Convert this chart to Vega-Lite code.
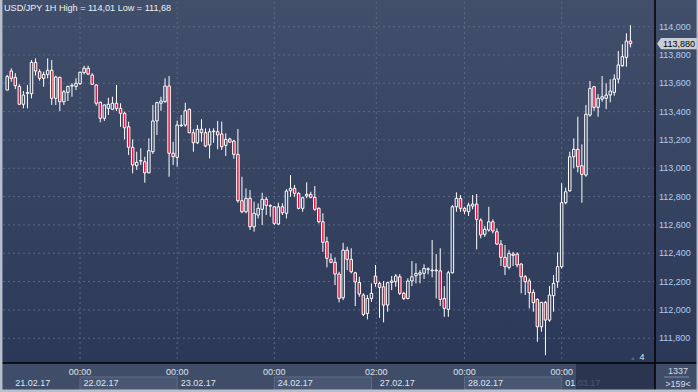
{
"$schema": "https://vega.github.io/schema/vega-lite/v6.json",
"width": 652, "height": 361,
"autosize": {"type": "none"},
"padding": {"left": 3, "top": 2, "right": 43, "bottom": 29},
"background": "#3f4d68",
"config": {"view": {"stroke": null}, "text": {"font": "Liberation Sans"}},
"datasets": {
"candles": [
{"i":0,"o":113.552,"h":113.659,"l":113.552,"c":113.647},
{"i":1,"o":113.687,"h":113.706,"l":113.611,"c":113.635},
{"i":2,"o":113.642,"h":113.671,"l":113.559,"c":113.583},
{"i":3,"o":113.578,"h":113.593,"l":113.447,"c":113.452},
{"i":4,"o":113.452,"h":113.545,"l":113.423,"c":113.517},
{"i":5,"o":113.529,"h":113.588,"l":113.423,"c":113.535},
{"i":6,"o":113.526,"h":113.764,"l":113.494,"c":113.748},
{"i":7,"o":113.748,"h":113.776,"l":113.654,"c":113.687},
{"i":8,"o":113.682,"h":113.699,"l":113.618,"c":113.635},
{"i":9,"o":113.635,"h":113.682,"l":113.576,"c":113.663},
{"i":10,"o":113.663,"h":113.776,"l":113.635,"c":113.692},
{"i":11,"o":113.692,"h":113.764,"l":113.447,"c":113.494},
{"i":12,"o":113.494,"h":113.654,"l":113.447,"c":113.644},
{"i":13,"o":113.642,"h":113.647,"l":113.404,"c":113.470},
{"i":14,"o":113.470,"h":113.552,"l":113.447,"c":113.540},
{"i":15,"o":113.536,"h":113.583,"l":113.475,"c":113.578},
{"i":16,"o":113.581,"h":113.600,"l":113.505,"c":113.586},
{"i":17,"o":113.578,"h":113.635,"l":113.552,"c":113.600},
{"i":18,"o":113.597,"h":113.682,"l":113.588,"c":113.678},
{"i":19,"o":113.675,"h":113.724,"l":113.663,"c":113.706},
{"i":20,"o":113.706,"h":113.724,"l":113.658,"c":113.665},
{"i":21,"o":113.658,"h":113.671,"l":113.588,"c":113.593},
{"i":22,"o":113.588,"h":113.593,"l":113.442,"c":113.459},
{"i":23,"o":113.466,"h":113.470,"l":113.324,"c":113.353},
{"i":24,"o":113.353,"h":113.452,"l":113.334,"c":113.447},
{"i":25,"o":113.423,"h":113.498,"l":113.376,"c":113.452},
{"i":26,"o":113.416,"h":113.505,"l":113.411,"c":113.459},
{"i":27,"o":113.459,"h":113.588,"l":113.404,"c":113.423},
{"i":28,"o":113.423,"h":113.459,"l":113.293,"c":113.388},
{"i":29,"o":113.388,"h":113.399,"l":113.204,"c":113.286},
{"i":30,"o":113.293,"h":113.329,"l":113.094,"c":113.148},
{"i":31,"o":113.148,"h":113.204,"l":112.964,"c":113.023},
{"i":32,"o":113.018,"h":113.117,"l":112.988,"c":113.042},
{"i":33,"o":113.051,"h":113.141,"l":113.023,"c":113.055},
{"i":34,"o":113.046,"h":113.081,"l":112.898,"c":112.968},
{"i":35,"o":112.968,"h":113.211,"l":112.964,"c":113.124},
{"i":36,"o":113.117,"h":113.447,"l":113.101,"c":113.334},
{"i":37,"o":113.334,"h":113.470,"l":113.235,"c":113.463},
{"i":38,"o":113.459,"h":113.505,"l":113.406,"c":113.475},
{"i":39,"o":113.470,"h":113.635,"l":113.463,"c":113.581},
{"i":40,"o":113.581,"h":113.651,"l":112.940,"c":113.106},
{"i":41,"o":113.106,"h":113.187,"l":113.023,"c":113.082},
{"i":42,"o":113.077,"h":113.336,"l":113.011,"c":113.305},
{"i":43,"o":113.300,"h":113.376,"l":113.293,"c":113.305},
{"i":44,"o":113.305,"h":113.463,"l":113.293,"c":113.406},
{"i":45,"o":113.416,"h":113.423,"l":113.247,"c":113.251},
{"i":46,"o":113.251,"h":113.275,"l":113.117,"c":113.180},
{"i":47,"o":113.180,"h":113.305,"l":113.171,"c":113.275},
{"i":48,"o":113.275,"h":113.346,"l":113.187,"c":113.251},
{"i":49,"o":113.251,"h":113.282,"l":113.148,"c":113.157},
{"i":50,"o":113.164,"h":113.282,"l":113.070,"c":113.258},
{"i":51,"o":113.258,"h":113.282,"l":113.180,"c":113.263},
{"i":52,"o":113.258,"h":113.334,"l":113.134,"c":113.235},
{"i":53,"o":113.242,"h":113.329,"l":113.129,"c":113.152},
{"i":54,"o":113.162,"h":113.247,"l":113.086,"c":113.204},
{"i":55,"o":113.206,"h":113.216,"l":113.180,"c":113.185},
{"i":56,"o":113.192,"h":113.199,"l":113.067,"c":113.098},
{"i":57,"o":113.098,"h":113.277,"l":112.757,"c":112.771},
{"i":58,"o":112.771,"h":112.940,"l":112.682,"c":112.693},
{"i":59,"o":112.693,"h":112.858,"l":112.682,"c":112.788},
{"i":60,"o":112.788,"h":112.846,"l":112.564,"c":112.587},
{"i":61,"o":112.587,"h":112.764,"l":112.552,"c":112.682},
{"i":62,"o":112.670,"h":112.752,"l":112.646,"c":112.717},
{"i":63,"o":112.710,"h":112.827,"l":112.599,"c":112.781},
{"i":64,"o":112.781,"h":112.799,"l":112.670,"c":112.738},
{"i":65,"o":112.733,"h":112.745,"l":112.658,"c":112.737},
{"i":66,"o":112.728,"h":112.733,"l":112.599,"c":112.611},
{"i":67,"o":112.606,"h":112.757,"l":112.599,"c":112.728},
{"i":68,"o":112.728,"h":112.752,"l":112.670,"c":112.686},
{"i":69,"o":112.682,"h":112.853,"l":112.646,"c":112.839},
{"i":70,"o":112.841,"h":112.952,"l":112.799,"c":112.858},
{"i":71,"o":112.858,"h":112.882,"l":112.799,"c":112.823},
{"i":72,"o":112.823,"h":112.830,"l":112.710,"c":112.717},
{"i":73,"o":112.717,"h":112.799,"l":112.693,"c":112.792},
{"i":74,"o":112.804,"h":112.901,"l":112.788,"c":112.816},
{"i":75,"o":112.816,"h":112.834,"l":112.788,"c":112.795},
{"i":76,"o":112.795,"h":112.875,"l":112.700,"c":112.710},
{"i":77,"o":112.717,"h":112.724,"l":112.611,"c":112.622},
{"i":78,"o":112.622,"h":112.682,"l":112.410,"c":112.477},
{"i":79,"o":112.481,"h":112.516,"l":112.300,"c":112.364},
{"i":80,"o":112.357,"h":112.399,"l":112.329,"c":112.336},
{"i":81,"o":112.336,"h":112.371,"l":112.175,"c":112.253},
{"i":82,"o":112.253,"h":112.269,"l":112.053,"c":112.081},
{"i":83,"o":112.086,"h":112.474,"l":112.069,"c":112.422},
{"i":84,"o":112.422,"h":112.446,"l":112.281,"c":112.357},
{"i":85,"o":112.357,"h":112.435,"l":112.258,"c":112.269},
{"i":86,"o":112.262,"h":112.269,"l":112.027,"c":112.197},
{"i":87,"o":112.194,"h":112.234,"l":112.093,"c":112.112},
{"i":88,"o":112.105,"h":112.117,"l":111.956,"c":111.968},
{"i":89,"o":111.975,"h":112.105,"l":111.933,"c":112.081},
{"i":90,"o":112.081,"h":112.187,"l":112.057,"c":112.117},
{"i":91,"o":112.239,"h":112.317,"l":112.163,"c":112.187},
{"i":92,"o":112.187,"h":112.199,"l":111.944,"c":112.159},
{"i":93,"o":112.163,"h":112.204,"l":111.912,"c":112.034},
{"i":94,"o":112.034,"h":112.199,"l":111.987,"c":112.192},
{"i":95,"o":112.194,"h":112.239,"l":112.140,"c":112.204},
{"i":96,"o":112.199,"h":112.253,"l":112.163,"c":112.239},
{"i":97,"o":112.234,"h":112.253,"l":112.105,"c":112.117},
{"i":98,"o":112.117,"h":112.128,"l":112.069,"c":112.081},
{"i":99,"o":112.081,"h":112.223,"l":112.074,"c":112.204},
{"i":100,"o":112.204,"h":112.345,"l":112.168,"c":112.234},
{"i":101,"o":112.241,"h":112.329,"l":112.187,"c":112.258},
{"i":102,"o":112.251,"h":112.281,"l":112.187,"c":112.262},
{"i":103,"o":112.258,"h":112.322,"l":112.218,"c":112.293},
{"i":104,"o":112.286,"h":112.300,"l":112.251,"c":112.290},
{"i":105,"o":112.276,"h":112.493,"l":112.230,"c":112.281},
{"i":106,"o":112.281,"h":112.394,"l":112.081,"c":112.276},
{"i":107,"o":112.276,"h":112.435,"l":112.027,"c":112.074},
{"i":108,"o":112.081,"h":112.168,"l":111.951,"c":112.011},
{"i":109,"o":112.004,"h":112.276,"l":111.951,"c":112.262},
{"i":110,"o":112.262,"h":112.740,"l":112.258,"c":112.728},
{"i":111,"o":112.728,"h":112.830,"l":112.693,"c":112.788},
{"i":112,"o":112.788,"h":112.811,"l":112.693,"c":112.717},
{"i":113,"o":112.717,"h":112.728,"l":112.675,"c":112.698},
{"i":114,"o":112.693,"h":112.757,"l":112.663,"c":112.740},
{"i":115,"o":112.733,"h":112.811,"l":112.710,"c":112.747},
{"i":116,"o":112.747,"h":112.818,"l":112.427,"c":112.639},
{"i":117,"o":112.634,"h":112.646,"l":112.505,"c":112.529},
{"i":118,"o":112.534,"h":112.592,"l":112.516,"c":112.569},
{"i":119,"o":112.564,"h":112.728,"l":112.552,"c":112.622},
{"i":120,"o":112.622,"h":112.639,"l":112.540,"c":112.557},
{"i":121,"o":112.552,"h":112.576,"l":112.458,"c":112.465},
{"i":122,"o":112.465,"h":112.493,"l":112.310,"c":112.371},
{"i":123,"o":112.371,"h":112.458,"l":112.246,"c":112.305},
{"i":124,"o":112.300,"h":112.422,"l":112.286,"c":112.399},
{"i":125,"o":112.394,"h":112.410,"l":112.310,"c":112.385},
{"i":126,"o":112.394,"h":112.406,"l":112.300,"c":112.317},
{"i":127,"o":112.324,"h":112.329,"l":112.117,"c":112.234},
{"i":128,"o":112.234,"h":112.246,"l":112.105,"c":112.199},
{"i":129,"o":112.204,"h":112.223,"l":112.011,"c":112.121},
{"i":130,"o":112.124,"h":112.145,"l":111.987,"c":112.051},
{"i":131,"o":112.074,"h":112.081,"l":111.775,"c":111.881},
{"i":132,"o":111.881,"h":112.057,"l":111.846,"c":112.053},
{"i":133,"o":112.053,"h":112.064,"l":111.680,"c":111.928},
{"i":134,"o":111.928,"h":112.168,"l":111.916,"c":112.105},
{"i":135,"o":112.100,"h":112.246,"l":111.987,"c":112.187},
{"i":136,"o":112.199,"h":112.406,"l":112.156,"c":112.305},
{"i":137,"o":112.305,"h":112.894,"l":112.293,"c":112.757},
{"i":138,"o":112.757,"h":112.863,"l":112.745,"c":112.834},
{"i":139,"o":112.841,"h":113.117,"l":112.834,"c":113.081},
{"i":140,"o":113.081,"h":113.211,"l":113.000,"c":113.134},
{"i":141,"o":113.134,"h":113.364,"l":112.971,"c":113.011},
{"i":142,"o":113.018,"h":113.169,"l":112.757,"c":112.957},
{"i":143,"o":112.952,"h":113.447,"l":112.940,"c":113.381},
{"i":144,"o":113.376,"h":113.616,"l":113.364,"c":113.564},
{"i":145,"o":113.576,"h":113.581,"l":113.406,"c":113.430},
{"i":146,"o":113.430,"h":113.524,"l":113.364,"c":113.494},
{"i":147,"o":113.489,"h":113.651,"l":113.470,"c":113.505},
{"i":148,"o":113.494,"h":113.600,"l":113.418,"c":113.517},
{"i":149,"o":113.517,"h":113.628,"l":113.466,"c":113.545},
{"i":150,"o":113.536,"h":113.663,"l":113.512,"c":113.630},
{"i":151,"o":113.630,"h":113.828,"l":113.600,"c":113.729},
{"i":152,"o":113.724,"h":113.875,"l":113.717,"c":113.788},
{"i":153,"o":113.783,"h":113.953,"l":113.717,"c":113.898},
{"i":154,"o":113.898,"h":114.010,"l":113.854,"c":113.880}
],
"hgrid": [{"p":111.8,"t":"111,800"},{"p":112.0,"t":"112,000"},{"p":112.2,"t":"112,200"},{"p":112.4,"t":"112,400"},{"p":112.6,"t":"112,600"},{"p":112.8,"t":"112,800"},{"p":113.0,"t":"113,000"},{"p":113.2,"t":"113,200"},{"p":113.4,"t":"113,400"},{"p":113.6,"t":"113,600"},{"p":113.8,"t":"113,800"},{"p":114.0,"t":"114,000"}],
"vgrid": [{"k":18,"t":"00:00"},{"k":42,"t":"00:00"},{"k":66,"t":"00:00"},{"k":91.2,"t":"02:00"},{"k":113,"t":"00:00"},{"k":137,"t":"00:00"}],
"boxes": [{"b0":18,"b1":42},{"b0":66,"b1":90},{"b0":113,"b1":137}],
"dates": [{"k":1.1,"d":"21.02.17"},{"k":18,"d":"22.02.17"},{"k":42,"d":"23.02.17"},{"k":66,"d":"24.02.17"},{"k":91.2,"d":"27.02.17"},{"k":113,"d":"28.02.17"},{"k":137,"d":"01.03.17"}],
"last": [{"p":113.88,"t":"113,880"}]
},
"layer": [
{"data": {"values": [{}]},
 "mark": {"type": "rect", "fill": {"gradient": "linear", "x1": 0, "y1": 0, "x2": 0, "y2": 1, "stops": [{"offset": 0, "color": "#424f6b"}, {"offset": 1, "color": "#2b3857"}]}},
 "encoding": {"x": {"value": -3}, "x2": {"value": 695}, "y": {"value": -2}, "y2": {"value": 361}}},
{"data": {"name": "hgrid"},
 "mark": {"type": "rule", "stroke": "#5a6782", "strokeWidth": 1, "strokeDash": [2, 3]},
 "encoding": {"y": {"field": "p", "type": "quantitative", "scale": {"domain": [111.625, 114.174], "nice": false, "zero": false}, "axis": null}}},
{"data": {"name": "vgrid"},
 "mark": {"type": "rule", "stroke": "#5a6782", "strokeWidth": 1, "strokeDash": [2, 3]},
 "encoding": {"x": {"field": "k", "type": "quantitative", "scale": {"domain": [0.1946, 158.83], "nice": false, "zero": false}, "axis": null}}},
{"data": {"name": "candles"},
 "mark": {"type": "rule", "stroke": "#ffffff", "strokeWidth": 1, "clip": true},
 "encoding": {
  "x": {"field": "i", "type": "quantitative", "scale": {"domain": [0.1946, 158.83], "nice": false, "zero": false}, "axis": null},
  "y": {"field": "l", "type": "quantitative", "scale": {"domain": [111.625, 114.174], "nice": false, "zero": false}, "axis": null},
  "y2": {"field": "h"}}},
{"data": {"name": "candles"},
 "transform": [{"filter": "datum.c >= datum.o"}],
 "mark": {"type": "bar", "size": 2.5, "stroke": "#ffffff", "strokeWidth": 1, "clip": true},
 "encoding": {
  "x": {"field": "i", "type": "quantitative", "scale": {"domain": [0.1946, 158.83], "nice": false, "zero": false}, "axis": null},
  "y": {"field": "o", "type": "quantitative", "scale": {"domain": [111.625, 114.174], "nice": false, "zero": false}, "axis": null},
  "y2": {"field": "c"},
  "fill": {"field": "c", "type": "quantitative", "scale": {"domain": [111.625, 114.174], "range": ["#2b3857", "#424f6b"]}, "legend": null}}},
{"data": {"name": "candles"},
 "transform": [{"filter": "datum.c < datum.o"}],
 "mark": {"type": "bar", "size": 2.5, "stroke": "#ffffff", "strokeWidth": 1, "fill": "#e8103c", "clip": true},
 "encoding": {
  "x": {"field": "i", "type": "quantitative", "scale": {"domain": [0.1946, 158.83], "nice": false, "zero": false}, "axis": null},
  "y": {"field": "o", "type": "quantitative", "scale": {"domain": [111.625, 114.174], "nice": false, "zero": false}, "axis": null},
  "y2": {"field": "c"}}},
{"data": {"name": "hgrid"},
 "mark": {"type": "text", "fill": "#aecdf0", "fontSize": 9, "align": "left", "baseline": "middle"},
 "encoding": {"x": {"value": 656},
  "y": {"field": "p", "type": "quantitative", "scale": {"domain": [111.625, 114.174], "nice": false, "zero": false}, "axis": null},
  "text": {"field": "t"}}},
{"data": {"name": "boxes"},
 "mark": {"type": "rect", "fill": "#4a5773", "stroke": "#5e6c88", "strokeWidth": 1},
 "encoding": {
  "x": {"field": "b0", "type": "quantitative", "scale": {"domain": [0.1946, 158.83], "nice": false, "zero": false}, "axis": null},
  "x2": {"field": "b1"}, "y": {"value": 375}, "y2": {"value": 388}}},
{"data": {"name": "vgrid"},
 "mark": {"type": "text", "fill": "#dfe4ec", "fontSize": 9, "align": "center", "baseline": "middle"},
 "encoding": {
  "x": {"field": "k", "type": "quantitative", "scale": {"domain": [0.1946, 158.83], "nice": false, "zero": false}, "axis": null},
  "y": {"value": 370}, "text": {"field": "t"}}},
{"data": {"name": "dates"},
 "mark": {"type": "text", "fill": "#dfe4ec", "fontSize": 9, "align": "left", "baseline": "middle", "dx": 3.5},
 "encoding": {
  "x": {"field": "k", "type": "quantitative", "scale": {"domain": [0.1946, 158.83], "nice": false, "zero": false}, "axis": null},
  "y": {"value": 381}, "text": {"field": "d"}}},
{"data": {"values": [{}]},
 "mark": {"type": "rect", "fill": "#25314a", "opacity": 0.8},
 "encoding": {"x": {"value": 573}, "x2": {"value": 652}, "y": {"value": 361}, "y2": {"value": 388}}},
{"data": {"values": [{}]},
 "mark": {"type": "rule", "stroke": "#000000", "strokeWidth": 1.5},
 "encoding": {"x": {"value": 652}, "y": {"value": -2}, "y2": {"value": 389}}},
{"data": {"values": [{}]},
 "mark": {"type": "rule", "stroke": "#000000", "strokeWidth": 1.5},
 "encoding": {"y": {"value": 361}, "x": {"value": -3}, "x2": {"value": 695}}},
{"data": {"name": "last"},
 "mark": {"type": "point", "shape": "M-1,0L-0.8,-0.28L1,-0.28L1,0.28L-0.8,0.28Z", "filled": true, "fill": "#c9ced6", "strokeWidth": 0, "opacity": 1, "size": 1600},
 "encoding": {"x": {"value": 674},
  "y": {"field": "p", "type": "quantitative", "scale": {"domain": [111.625, 114.174], "nice": false, "zero": false}, "axis": null}}},
{"data": {"name": "last"},
 "mark": {"type": "text", "fill": "#000000", "fontSize": 9, "align": "center", "baseline": "middle"},
 "encoding": {"x": {"value": 676},
  "y": {"field": "p", "type": "quantitative", "scale": {"domain": [111.625, 114.174], "nice": false, "zero": false}, "axis": null},
  "text": {"field": "t"}}},
{"data": {"values": [{}]},
 "mark": {"type": "text", "text": "1337", "fill": "#d8dde6", "fontSize": 9, "align": "center", "baseline": "middle"},
 "encoding": {"x": {"value": 675}, "y": {"value": 369}}},
{"data": {"values": [{}]},
 "mark": {"type": "text", "text": ">159<", "fill": "#d8dde6", "fontSize": 9, "align": "center", "baseline": "middle"},
 "encoding": {"x": {"value": 675}, "y": {"value": 382}}},
{"data": {"values": [{}]},
 "mark": {"type": "rule", "stroke": "#7f8da6", "strokeWidth": 1},
 "encoding": {"y": {"value": 375}, "x": {"value": 661}, "x2": {"value": 686}}},
{"data": {"values": [{}]},
 "mark": {"type": "text", "text": "USD/JPY 1H High = 114,01 Low = 111,68", "fill": "#eef0f4", "fontSize": 9.1, "align": "left", "baseline": "middle"},
 "encoding": {"x": {"value": 1}, "y": {"value": 6}}},
{"data": {"values": [{}]},
 "mark": {"type": "text", "text": "▲", "fill": "#55627c", "fontSize": 6, "align": "center", "baseline": "middle"},
 "encoding": {"x": {"value": 630}, "y": {"value": 356}}},
{"data": {"values": [{}]},
 "mark": {"type": "text", "text": "4", "fill": "#dfe4ec", "fontSize": 9, "align": "center", "baseline": "middle"},
 "encoding": {"x": {"value": 639}, "y": {"value": 355}}},
{"data": {"values": [{}]},
 "mark": {"type": "rule", "stroke": "#b6bfcc", "strokeWidth": 2.5},
 "encoding": {"x": {"value": -1.8}, "y": {"value": -2}, "y2": {"value": 390}}},
{"data": {"values": [{}]},
 "mark": {"type": "rule", "stroke": "#b6bfcc", "strokeWidth": 2.5},
 "encoding": {"y": {"value": 388.8}, "x": {"value": -3}, "x2": {"value": 695}}},
{"data": {"values": [{}]},
 "mark": {"type": "rule", "stroke": "#b6bfcc", "strokeWidth": 1.5},
 "encoding": {"x": {"value": 694.3}, "y": {"value": -2}, "y2": {"value": 390}}}
]
}
